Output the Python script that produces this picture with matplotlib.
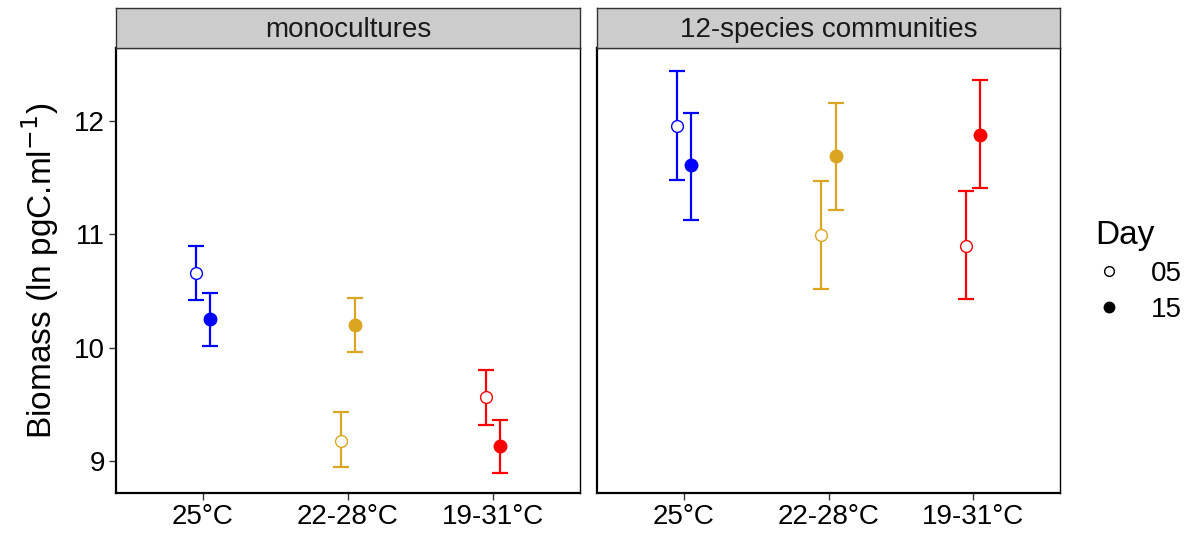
import matplotlib
matplotlib.use("Agg")
import matplotlib.pyplot as plt
from matplotlib.lines import Line2D

plt.rcParams['font.family'] = ['Liberation Sans', 'DejaVu Sans']

# data
panels = ["monocultures", "12-species communities"]
treatments = ["25°C", "22-28°C", "19-31°C"]
colors = ["#0000FF", "#DAA520", "#FF0000"]
days = ["05", "15"]

# mean, lower, upper per panel -> day -> treatment
mono_d05_mean = [10.66, 9.18, 9.56]
mono_d05_low = [10.42, 8.95, 9.32]
mono_d05_high = [10.90, 9.43, 9.80]
mono_d15_mean = [10.25, 10.20, 9.13]
mono_d15_low = [10.01, 9.96, 8.89]
mono_d15_high = [10.48, 10.44, 9.36]

comm_d05_mean = [11.96, 10.99, 10.90]
comm_d05_low = [11.48, 10.52, 10.43]
comm_d05_high = [12.44, 11.47, 11.38]
comm_d15_mean = [11.61, 11.69, 11.88]
comm_d15_low = [11.13, 11.21, 11.41]
comm_d15_high = [12.07, 12.16, 12.36]

data = {
    "monocultures": [(mono_d05_mean, mono_d05_low, mono_d05_high),
                     (mono_d15_mean, mono_d15_low, mono_d15_high)],
    "12-species communities": [(comm_d05_mean, comm_d05_low, comm_d05_high),
                               (comm_d15_mean, comm_d15_low, comm_d15_high)],
}

W, H = 1189, 537
fig = plt.figure(figsize=(W / 100, H / 100), dpi=100)

def frac(x0, y0, x1, y1):
    return [x0 / W, 1 - y1 / H, (x1 - x0) / W, (y1 - y0) / H]

panel_px = [(116, 580), (597, 1060)]
dodge = 0.05
ylo, yhi = 8.717, 12.644

for i, name in enumerate(panels):
    x0, x1 = panel_px[i]
    ax = fig.add_axes(frac(x0, 48, x1, 493))
    for d, (mean, low, high) in enumerate(data[name]):
        off = -dodge if d == 0 else dodge
        for t in range(len(treatments)):
            x = t + off
            ax.errorbar(x, mean[t], yerr=[[mean[t] - low[t]], [high[t] - mean[t]]],
                        fmt='none', ecolor=colors[t], elinewidth=1.6,
                        capsize=5.5, capthick=1.6, zorder=2)
            if d == 0:
                ax.plot(x, mean[t], 'o', ms=8.5, mfc='white', mec=colors[t],
                        mew=1.0, zorder=3)
            else:
                ax.plot(x, mean[t], 'o', ms=9, mfc=colors[t], mec=colors[t],
                        zorder=3)
    ax.set_xlim(-0.6, 2.6)
    ax.set_ylim(ylo, yhi)
    ax.set_xticks(range(len(treatments)))
    ax.set_xticklabels(treatments)
    ax.set_yticks([9, 10, 11, 12])
    ax.tick_params(axis='both', length=5, width=1.0, color='#333333',
                   labelsize=20, labelcolor='black', pad=3)
    for s in ax.spines.values():
        s.set_linewidth(1.0)
        s.set_color('black')
    ax.spines['left'].set_linewidth(1.6)
    ax.spines['bottom'].set_linewidth(1.6)
    ax.spines['top'].set_linewidth(1.6)
    if i == 0:
        ax.set_ylabel(r"Biomass (ln pgC.ml$^{-1}$)", fontsize=24, labelpad=9)
    else:
        ax.tick_params(axis='y', left=False, labelleft=False)

    sax = fig.add_axes(frac(x0, 8, x1, 48))
    sax.set_xticks([])
    sax.set_yticks([])
    sax.set_facecolor('#CCCCCC')
    for s in sax.spines.values():
        s.set_linewidth(1.0)
        s.set_color('#333333')
    sax.text(0.5, 0.45, name, ha='center', va='center', fontsize=20,
             transform=sax.transAxes, color='#1A1A1A')

handles = [
    Line2D([], [], ls='none', marker='o', ms=7, mfc='white', mec='black', mew=1.0),
    Line2D([], [], ls='none', marker='o', ms=7.5, mfc='black', mec='black'),
]
leg = fig.legend(handles, days, title="Day", loc='upper left',
                 bbox_to_anchor=(1073 / W, 1 - 198 / H), frameon=False,
                 fontsize=20, title_fontsize=24, handletextpad=1.0,
                 labelspacing=0.35, handlelength=1.0, borderpad=0.3)
leg._legend_box.align = "left"

fig.savefig("out.png", dpi=100)
